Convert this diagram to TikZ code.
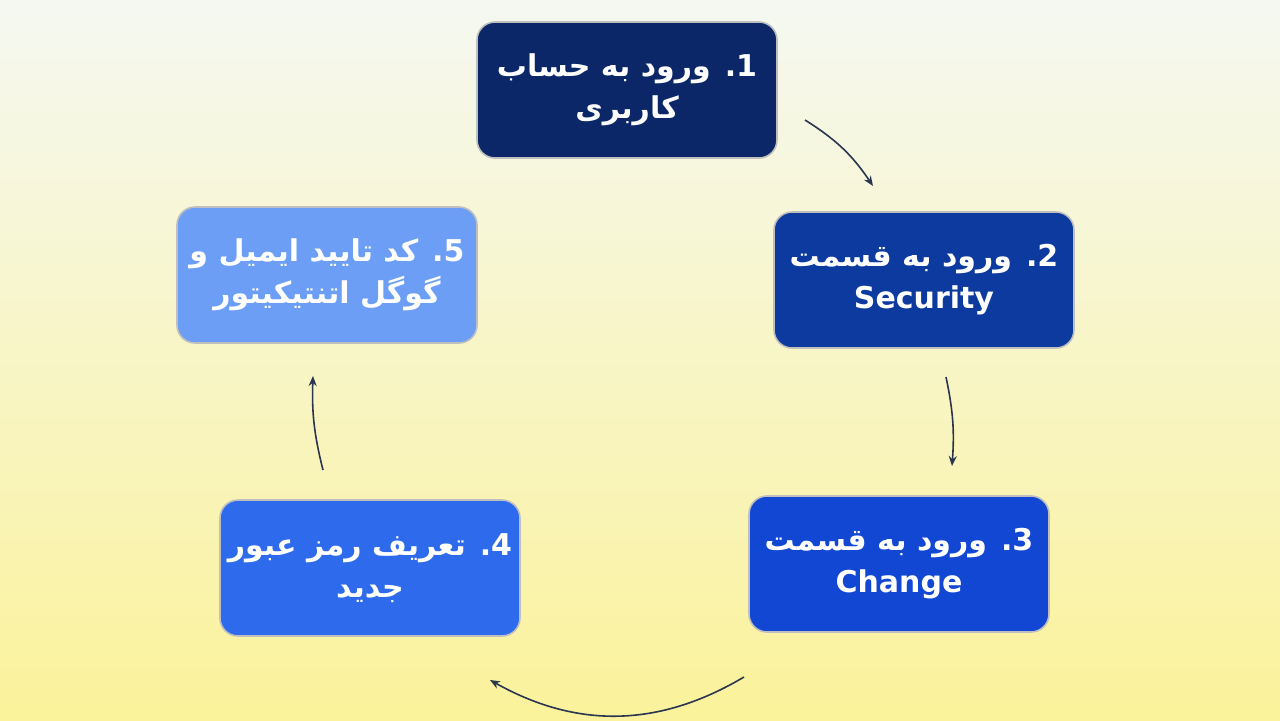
\documentclass[tikz,border=0pt]{standalone}
\usepackage{fontspec}
\newfontfamily\fafont[Script=Arabic]{DejaVu Sans}
\TeXXeTstate=1
\usetikzlibrary{arrows.meta, positioning}
\definecolor{bgtop}{HTML}{F5F8F1}
\definecolor{bgbottom}{HTML}{FBF29B}
\definecolor{stepone}{HTML}{0B2767}
\definecolor{steptwo}{HTML}{0C3A9E}
\definecolor{stepthree}{HTML}{1147D2}
\definecolor{stepfour}{HTML}{2D6BEC}
\definecolor{stepfive}{HTML}{6C9EF6}
\definecolor{linkcol}{HTML}{2A3550}
\tikzset{
    stepbox/.style = {
      rounded corners=9pt, minimum width=150pt, minimum height=68pt,
      draw=white!75!black, line width=0.8pt, text=white, align=center,
      font=\fafont\bfseries\fontsize{15}{21}\selectfont, inner sep=2pt,
    },
    link/.style = {line width=0.8pt, linkcol, arrows={-Stealth[length=5pt, width=4pt]}},
}
\begin{document}
\begin{tikzpicture}[x=0.5pt, y=-0.5pt]
    %% Background
    \shade [top color=bgtop, bottom color=bgbottom] (0,0) rectangle (1280,720);
    \useasboundingbox (0,0) rectangle (1280,720);

    %% Steps
    \node [stepbox, fill=stepone] (s1) at (627,90)
      {\beginR 1. ورود به حساب\endR\\\beginR کاربری\endR};
    \node [stepbox, fill=steptwo] (s2) at (924,280)
      {\beginR 2. ورود به قسمت\endR\\Security};
    \node [stepbox, fill=stepthree] (s3) at (899,564)
      {\beginR 3. ورود به قسمت\endR\\Change};
    \node [stepbox, fill=stepfour] (s4) at (370,568)
      {\beginR 4. تعریف رمز عبور\endR\\\beginR جدید\endR};
    \node [stepbox, fill=stepfive] (s5) at (327,275)
      {\beginR 5. کد تایید ایمیل و\endR\\\beginR گوگل اتنتیکیتور\endR};

    %% Connectors
    \coordinate (a1) at (805,120);  \coordinate (b1) at (873,186);
    \coordinate (a2) at (946,377);  \coordinate (b2) at (952,466);
    \coordinate (a3) at (744,677);  \coordinate (b3) at (490,680);
    \coordinate (a4) at (323,470);  \coordinate (b4) at (313,376);
    \draw [link] (a1) to [bend left=12] (b1);
    \draw [link] (a2) to [bend left=8] (b2);
    \draw [link] (a3) to [bend left=30] (b3);
    \draw [link] (a4) to [bend left=8] (b4);
\end{tikzpicture}
\end{document}
